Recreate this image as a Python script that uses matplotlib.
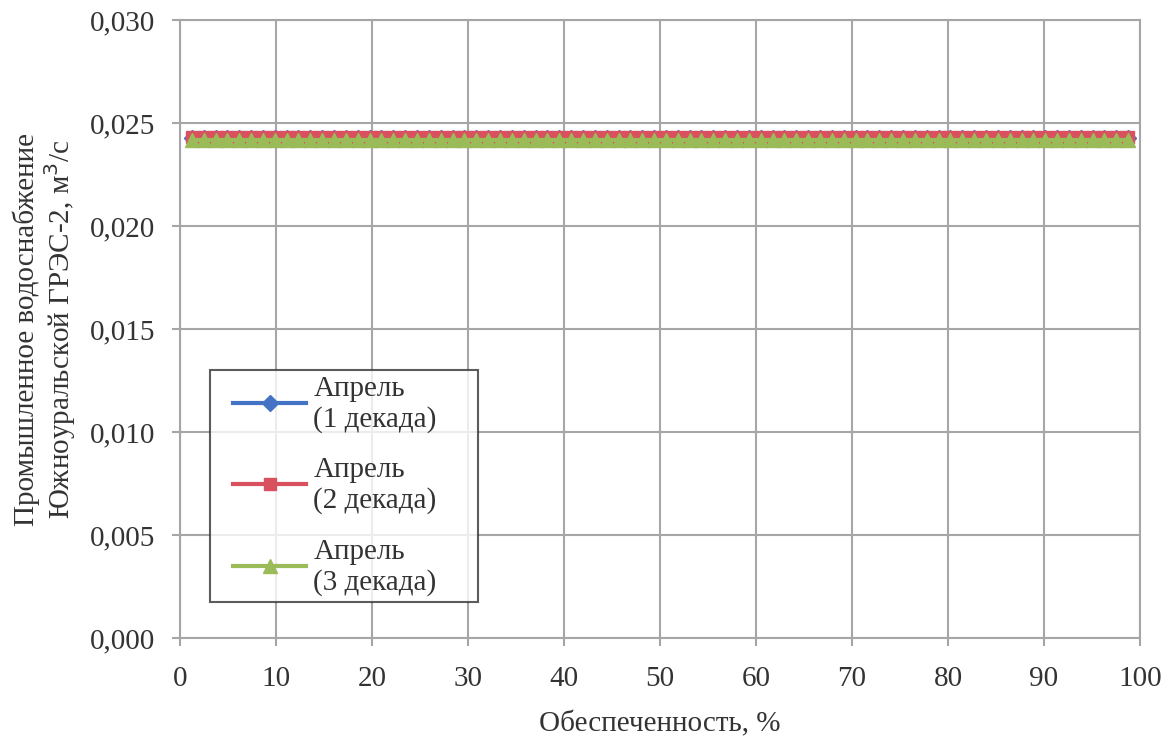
import numpy as np
import matplotlib
matplotlib.use('Agg')
import matplotlib.pyplot as plt
from matplotlib.ticker import FuncFormatter
from matplotlib.lines import Line2D
from matplotlib.legend_handler import HandlerLine2D

# обеспеченность, % (ряд ~80 лет)
n = 80
prob = [m / (n + 1) * 100 for m in range(1, n + 1)]
q1 = [0.02425] * n   # Апрель (1 декада)
q2 = [0.02430] * n   # Апрель (2 декада)
q3 = [0.02420] * n   # Апрель (3 декада)
labels = ['Апрель\n(1 декада)', 'Апрель\n(2 декада)', 'Апрель\n(3 декада)']

plt.rcParams['font.family'] = ['Liberation Serif', 'DejaVu Serif']
fs = 21

fig = plt.figure(figsize=(11.7, 7.42), dpi=100)
ax = fig.add_axes([0.1538, 0.1402, 0.8206, 0.8328])

ax.plot(prob, q1, color='#4472C4', lw=3, marker='D', ms=8, label=labels[0])
ax.plot(prob, q2, color='#D9515E', lw=3, marker='s', ms=8, label=labels[1])
ax.plot(prob, q3, color='#9BBB59', lw=3, marker='^', ms=10, label=labels[2])

ax.set_xlim(0, 100)
ax.set_ylim(0, 0.030)
ax.set_xticks(range(0, 101, 10))
ax.set_yticks(np.arange(0, 0.0301, 0.005))
ax.yaxis.set_major_formatter(FuncFormatter(lambda v, p: ('%.3f' % v).replace('.', ',')))
ax.grid(True, color='#A6A6A6', lw=1.5)
for s in ax.spines.values():
    s.set_color('#A6A6A6')
    s.set_linewidth(1.5)
ax.tick_params(colors='#A6A6A6', length=6, width=1.5, labelsize=fs, labelcolor='#333333')
ax.tick_params(axis='y', pad=12)
ax.tick_params(axis='x', pad=14)

ax.set_xlabel('Обеспеченность, %', fontsize=fs, color='#333333', labelpad=14)
ax.set_ylabel('Промышленное водоснабжение\nЮжноуральской ГРЭС-2, м$^3$/с',
              fontsize=fs, color='#333333', labelpad=8, linespacing=1.1)

leg = ax.legend(loc='lower left', bbox_to_anchor=(0.031, 0.058, 0.279, 0.388), mode='expand',
                fontsize=fs, frameon=True, fancybox=False, handlelength=3.1,
                borderaxespad=0, borderpad=0.2, labelspacing=0.85, handletextpad=0.25,
                handleheight=1.0, handler_map={Line2D: HandlerLine2D(xpad=0.6)})
leg.get_frame().set_edgecolor('#333333')
leg.get_frame().set_linewidth(1.5)
for t in leg.get_texts():
    t.set_color('#333333')

fig.savefig('out.png', dpi=100)
